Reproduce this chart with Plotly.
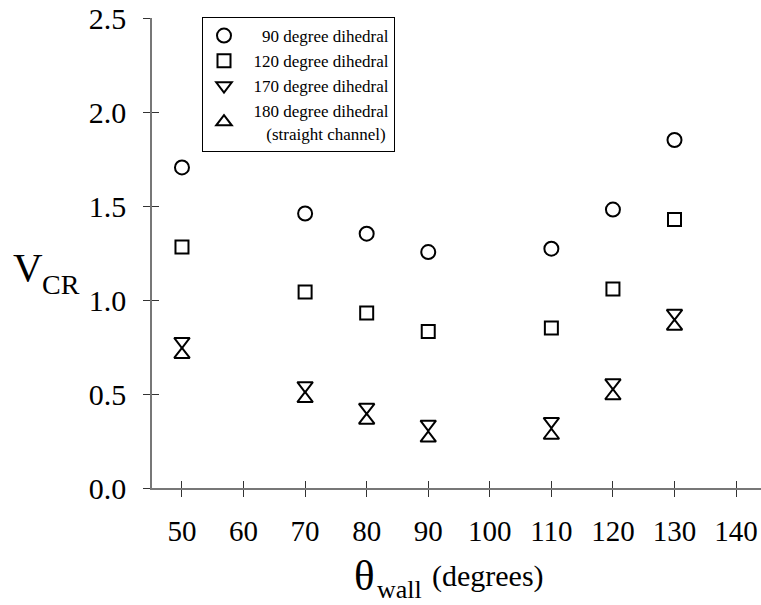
import plotly.graph_objects as go

# ---- data ----
theta_wall = [50, 70, 80, 90, 110, 120, 130]
vcr_90 = [1.705, 1.46, 1.353, 1.255, 1.273, 1.481, 1.851]
vcr_120 = [1.282, 1.043, 0.931, 0.833, 0.851, 1.059, 1.428]
vcr_170 = [0.78, 0.545, 0.43, 0.34, 0.355, 0.56, 0.93]
vcr_180 = [0.71, 0.475, 0.36, 0.265, 0.28, 0.49, 0.86]
NB = "\u00a0"
series_names = [NB * 4 + "90 degree dihedral",
                NB * 2 + "120 degree dihedral",
                NB * 2 + "170 degree dihedral",
                NB * 2 + "180 degree dihedral<br>" + NB * 5 + "(straight channel)"]
x_ticks = [50, 60, 70, 80, 90, 100, 110, 120, 130, 140]
y_ticks = [0.0, 0.5, 1.0, 1.5, 2.0, 2.5]
y_tick_labels = ["0.0", "0.5", "1.0", "1.5", "2.0", "2.5"]

FONT = "Liberation Serif, Times New Roman, serif"
W, H = 761, 605
ML, MR, MT, MB = 152, 0, 18, 117
PW, PH = W - ML - MR, H - MT - MB


def px_x(p):
    return (p - ML) / PW


def px_y(p):
    return (H - MB - p) / PH


fig = go.Figure()
styles = [
    dict(symbol="circle-open", size=14),
    dict(symbol="square-open", size=13),
    dict(symbol="triangle-down-open", size=13.5),
    dict(symbol="triangle-up-open", size=13.5),
]
for name, vals, st in zip(series_names, [vcr_90, vcr_120, vcr_170, vcr_180], styles):
    fig.add_trace(go.Scatter(
        x=theta_wall, y=vals, mode="markers", name=name,
        marker=dict(symbol=st["symbol"], size=st["size"], color="black",
                    line=dict(color="black", width=2)),
    ))
# empty trace for the overlay axes (inside half of the crossing ticks)
fig.add_trace(go.Scatter(x=[], y=[], xaxis="x2", yaxis="y2", showlegend=False))

axis_common = dict(showgrid=False, zeroline=False)
fig.update_layout(
    width=W, height=H,
    margin=dict(l=ML, r=MR, t=MT, b=MB, pad=0),
    paper_bgcolor="white", plot_bgcolor="white",
    font=dict(family=FONT, color="black"),
    showlegend=True,
    xaxis=dict(**axis_common, range=[45.13, 144.05], tickvals=x_ticks,
               ticks="outside", ticklen=7, tickwidth=1.3, tickcolor="#333",
               showline=True, linecolor="#777", linewidth=1.6,
               tickfont=dict(size=29, family=FONT), ticklabelstandoff=9),
    yaxis=dict(**axis_common, range=[0, 2.5], tickvals=y_ticks,
               ticktext=y_tick_labels,
               ticks="outside", ticklen=7, tickwidth=1.3, tickcolor="#333",
               showline=True, linecolor="#777", linewidth=1.6,
               tickfont=dict(size=30, family=FONT), ticklabelstandoff=11),
    xaxis2=dict(**axis_common, overlaying="x", anchor="y", side="bottom",
                range=[45.13, 144.05], tickvals=x_ticks, ticks="inside",
                ticklen=7, tickwidth=1.3, tickcolor="#333",
                showticklabels=False, showline=False),
    yaxis2=dict(**axis_common, overlaying="y", anchor="x", side="left",
                range=[0, 2.5], tickvals=y_ticks, ticks="inside",
                ticklen=7, tickwidth=1.3, tickcolor="#333",
                showticklabels=False, showline=False),
    legend=dict(x=px_x(202), y=px_y(17), xanchor="left", yanchor="top",
                bgcolor="white", bordercolor="black", borderwidth=1,
                font=dict(size=17, family=FONT), itemwidth=32,
                tracegroupgap=0),
)

annotations = [
    dict(text="V", x=px_x(11), y=px_y(267), xanchor="left", yanchor="middle",
         font=dict(size=41, family=FONT)),
    dict(text="CR", x=px_x(40), y=px_y(284), xanchor="left", yanchor="middle",
         font=dict(size=28, family=FONT)),
    dict(text="\u03b8", x=px_x(352), y=px_y(575), xanchor="left", yanchor="middle",
         font=dict(size=43, family=FONT)),
    dict(text="wall", x=px_x(375), y=px_y(589), xanchor="left", yanchor="middle",
         font=dict(size=26, family=FONT)),
    dict(text="(degrees)", x=px_x(430), y=px_y(576), xanchor="left", yanchor="middle",
         font=dict(size=30, family=FONT)),
]
for a in annotations:
    a.update(xref="paper", yref="paper", showarrow=False)
fig.update_layout(annotations=annotations)

fig.write_html("out.html",
               config={"displayModeBar": False},
               post_script="document.body.style.margin='0';"
                           "document.body.style.padding='0';")
